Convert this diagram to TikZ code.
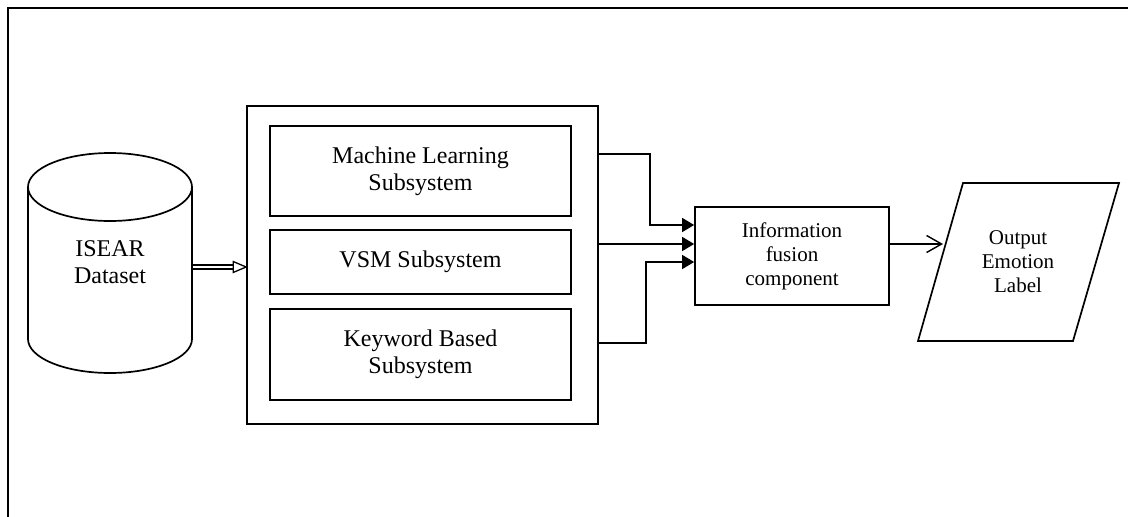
\documentclass[tikz,border=0pt]{standalone}
\usepackage{fontspec}
\setmainfont{Liberation Serif}
\usetikzlibrary{arrows.meta,calc}
\begin{document}
\begin{tikzpicture}[x=1pt,y=-1pt,
  shape line/.style={line width=1.7pt},
  box/.style={draw,shape line,rectangle,inner sep=0pt,align=center},
  bigtext/.style={font=\fontsize{24}{27}\selectfont},
  smalltext/.style={font=\fontsize{21}{24}\selectfont},
  conn/.style={line width=1.4pt,-{Triangle[length=12pt,width=14pt]}},
  dblline/.style={line width=1.3pt},
  openarrow/.style={line width=1.4pt,-{Straight Barb[length=15pt,width=17pt]}}]
\useasboundingbox (0,0) rectangle (1128,517);
% outer frame
\draw[shape line] (8,517) -- (8,8) -- (1128,8);
% cylinder
\draw[shape line] (28,187) -- (28,339) arc[start angle=180,end angle=360,x radius=82pt,y radius=34pt] -- (192,187);
\draw[shape line] (110,187) ellipse[x radius=82pt,y radius=34pt];
\node[bigtext,align=center,minimum width=164pt,minimum height=120pt,inner sep=0pt] (db) at (110,262) {ISEAR\\Dataset};
% system box
\node[box,minimum width=351pt,minimum height=318pt] (sys) at (422.5,265) {};
\node[box,bigtext,minimum width=301pt,minimum height=90pt] (ml) at (420.5,171) {Machine Learning\\Subsystem};
\node[box,bigtext,minimum width=301pt,minimum height=64pt] (vsm) at (420.5,262) {VSM Subsystem};
\node[box,bigtext,minimum width=301pt,minimum height=91pt] (kw) at (420.5,354.5) {Keyword Based\\Subsystem};
% fusion
\node[box,smalltext,minimum width=194pt,minimum height=98pt] (fus) at (792,256) {Information\\fusion\\component};
% output parallelogram
\draw[shape line] (963,183) -- (1119,183) -- (1073,341) -- (918,341) -- cycle;
\node[smalltext,align=center,inner sep=0pt] (outp) at (1018,262) {Output\\Emotion\\Label};
\coordinate (outin) at (943,244);
% double arrow from dataset to system
\coordinate (dtip) at (sys.west |- 0,267);
\draw[dblline] ($(db.east)+(1,3)$) -- ($(dtip)+(-12,-2)$);
\draw[dblline] ($(db.east)+(1,7)$) -- ($(dtip)+(-12,2)$);
\draw[dblline,line join=miter] ($(dtip)+(-13,-5.5)$) -- (dtip) -- ($(dtip)+(-13,5.5)$) -- cycle;
% connectors
\draw[conn] (sys.east |- 0,154) -- (650,154) -- (650,225) -- (fus.west |- 0,225);
\draw[conn] (sys.east |- 0,244) -- (fus.west |- 0,244);
\draw[conn] (sys.east |- 0,343) -- (646,343) -- (646,262) -- (fus.west |- 0,262);
\draw[openarrow] (fus.east |- 0,244) -- (outin);
\end{tikzpicture}
\end{document}
